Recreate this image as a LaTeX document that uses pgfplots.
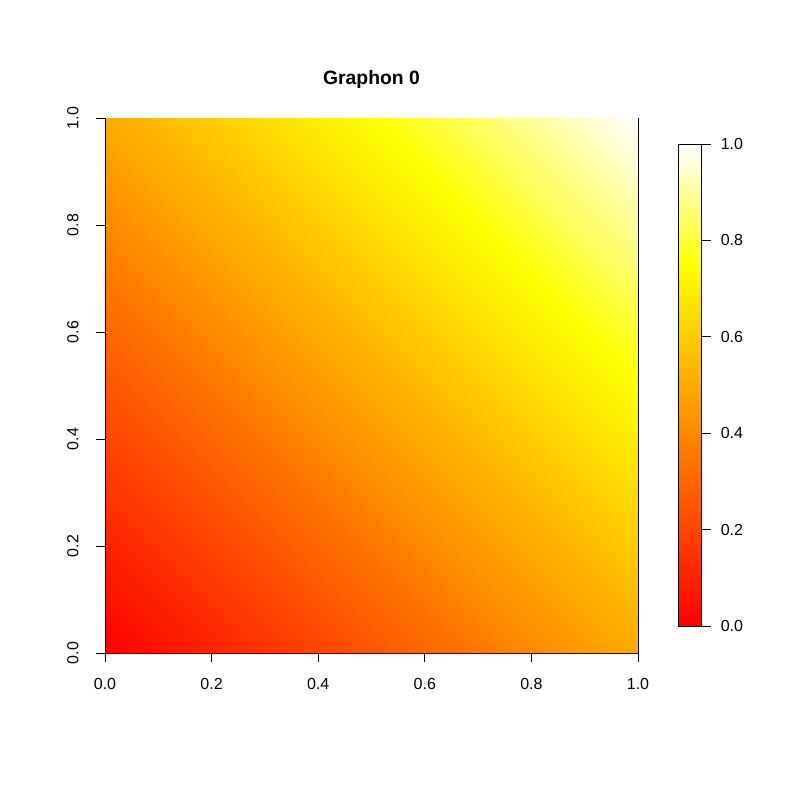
\documentclass[border=0pt]{standalone}
\usepackage{fontspec}
\setmainfont{Liberation Sans}
\usepackage{pgfplots}
\pgfplotsset{compat=1.18}
\begin{document}
\begin{tikzpicture}[x=1pt,y=1pt]
\useasboundingbox (0,0) rectangle (600,600);
\pgfplotsset{
  colormap={heat}{rgb=(1,0,0) rgb=(1,0.3333,0) rgb=(1,0.6667,0) rgb=(1,1,0) rgb=(1,1,1)},
  rstyle/.style={
    scale only axis, anchor=south west, axis on top,
    colormap name=heat, point meta min=0, point meta max=1,
    enlargelimits=false,
    ticklabel style={font=\fontsize{12}{14}\selectfont},
    tick align=outside, major tick length=7pt,
    tick style={black, line width=0.6pt},
    axis line style={line width=0.6pt},
    /pgf/number format/assume math mode=true,
    /pgf/number format/.cd, fixed, fixed zerofill, precision=1,
  },
}
\begin{axis}[rstyle, clip=false,
  at={(78.75pt,110.25pt)}, width=399.75pt, height=401.25pt,
  xmin=0, xmax=1, ymin=0, ymax=1,
  axis line style={draw=none},
  xtick pos=bottom, ytick pos=left,
  xtick={0,0.2,0.4,0.6,0.8,1}, ytick={0,0.2,0.4,0.6,0.8,1},
  xticklabel style={anchor=north, yshift=-8.5pt},
  yticklabel style={rotate=90, anchor=south, yshift=9.25pt},
]
\addplot[surf, shader=interp, mesh/rows=6, mesh/cols=6, point meta=\thisrow{z}] table {
x y z
0.0 0.0 0.00
0.2 0.0 0.10
0.4 0.0 0.20
0.6 0.0 0.30
0.8 0.0 0.40
1.0 0.0 0.50
0.0 0.2 0.10
0.2 0.2 0.20
0.4 0.2 0.30
0.6 0.2 0.40
0.8 0.2 0.50
1.0 0.2 0.60
0.0 0.4 0.20
0.2 0.4 0.30
0.4 0.4 0.40
0.6 0.4 0.50
0.8 0.4 0.60
1.0 0.4 0.70
0.0 0.6 0.30
0.2 0.6 0.40
0.4 0.6 0.50
0.6 0.6 0.60
0.8 0.6 0.70
1.0 0.6 0.80
0.0 0.8 0.40
0.2 0.8 0.50
0.4 0.8 0.60
0.6 0.8 0.70
0.8 0.8 0.80
1.0 0.8 0.90
0.0 1.0 0.50
0.2 1.0 0.60
0.4 1.0 0.70
0.6 1.0 0.80
0.8 1.0 0.90
1.0 1.0 1.00
};
\draw[line width=0.6pt, black] (axis cs:0,1) -- (axis cs:0,0) -- (axis cs:1,0) -- (axis cs:1,1);
\end{axis}
\node[font=\bfseries\fontsize{14.5}{17}\selectfont] at (278.6,540) {Graphon 0};
\begin{axis}[rstyle,
  at={(508.5pt,130.5pt)}, width=17.6pt, height=361.5pt,
  xmin=0, xmax=1, ymin=0, ymax=1,
  xtick=\empty, ytick={0,0.2,0.4,0.6,0.8,1},
  ytick pos=right, yticklabel pos=right,
  yticklabel style={xshift=4pt},
]
\addplot[surf, shader=interp, mesh/rows=5, mesh/cols=2, point meta=\thisrow{z}] table {
x y z
0 0.00 0.00
1 0.00 0.00
0 0.25 0.25
1 0.25 0.25
0 0.50 0.50
1 0.50 0.50
0 0.75 0.75
1 0.75 0.75
0 1.00 1.00
1 1.00 1.00
};
\end{axis}
\end{tikzpicture}
\end{document}
